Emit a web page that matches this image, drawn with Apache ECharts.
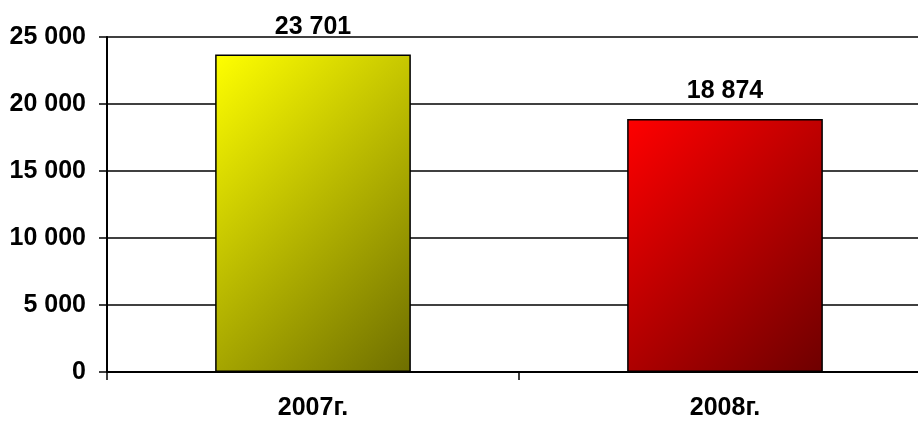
<!DOCTYPE html>
<html><head><meta charset="utf-8">
<script src="https://cdn.jsdelivr.net/npm/echarts@6/dist/echarts.min.js"></script>
<style>html,body{margin:0;padding:0;background:#fff}#c{width:918px;height:421px}</style>
</head><body><div id="c"></div>
<script>
const categories = ['2007г.', '2008г.'];
const values = [23701, 18874];
const yTicks = [0, 5000, 10000, 15000, 20000, 25000];

function fmt(v){ return String(v).replace(/\B(?=(\d{3})+(?!\d))/g, ' '); }
const grads = [
  ['#ffff00', '#6e6e00'],
  ['#ff0000', '#6e0000']
];
const barFrac = 0.475;
const chart = echarts.init(document.getElementById('c'));
function buildOption(ends){
  return {
    animation: false,
    grid: {left: 107, top: 37, right: -13, bottom: 49, containLabel: false, outerBoundsMode: 'none'},
    xAxis: {
      type: 'category', data: categories,
      axisLine: {lineStyle: {color: '#000', width: 2}},
      axisTick: {show: true, length: 8, lineStyle: {color: '#000', width: 1.5}},
      axisLabel: {color: '#000', fontFamily: 'Liberation Sans', fontWeight: 'bold', fontSize: 25, margin: 24}
    },
    yAxis: {
      type: 'value', min: yTicks[0], max: yTicks[yTicks.length-1], interval: 5000,
      axisLine: {show: true, lineStyle: {color: '#000', width: 2}},
      axisTick: {show: true, length: 8, lineStyle: {color: '#000', width: 1.5}},
      splitLine: {lineStyle: {color: '#000', width: 1.5}},
      axisLabel: {color: '#000', fontFamily: 'Liberation Sans', fontWeight: 'bold', fontSize: 25, margin: 21, formatter: fmt}
    },
    series: [{
      type: 'bar', barWidth: (barFrac * 100) + '%',
      data: values.map((v, i) => ({
        value: v,
        itemStyle: {
          color: new echarts.graphic.LinearGradient(0, 0, ends[i][0], ends[i][1], [
            {offset: 0, color: grads[i][0]}, {offset: 1, color: grads[i][1]}
          ]),
          borderColor: '#000', borderWidth: 1.5
        }
      })),
      label: {show: true, position: 'top', distance: 15, color: '#000', fontFamily: 'Liberation Sans', fontWeight: 'bold', fontSize: 25,
        formatter: p => fmt(p.value)}
    }]
  };
}
chart.setOption(buildOption(values.map(() => [1, 1])));
// 45-degree gradient in pixel space, derived from the library's scales
const c0 = chart.convertToPixel({xAxisIndex: 0}, 0);
const c1 = chart.convertToPixel({xAxisIndex: 0}, 1);
const w = Math.abs(c1 - c0) * barFrac;
const y0 = chart.convertToPixel({yAxisIndex: 0}, 0);
const ends = values.map(v => {
  const h = Math.abs(y0 - chart.convertToPixel({yAxisIndex: 0}, v));
  const d = (w + h) / 2;
  return [d / w, d / h];
});
chart.setOption(buildOption(ends));
</script></body></html>
